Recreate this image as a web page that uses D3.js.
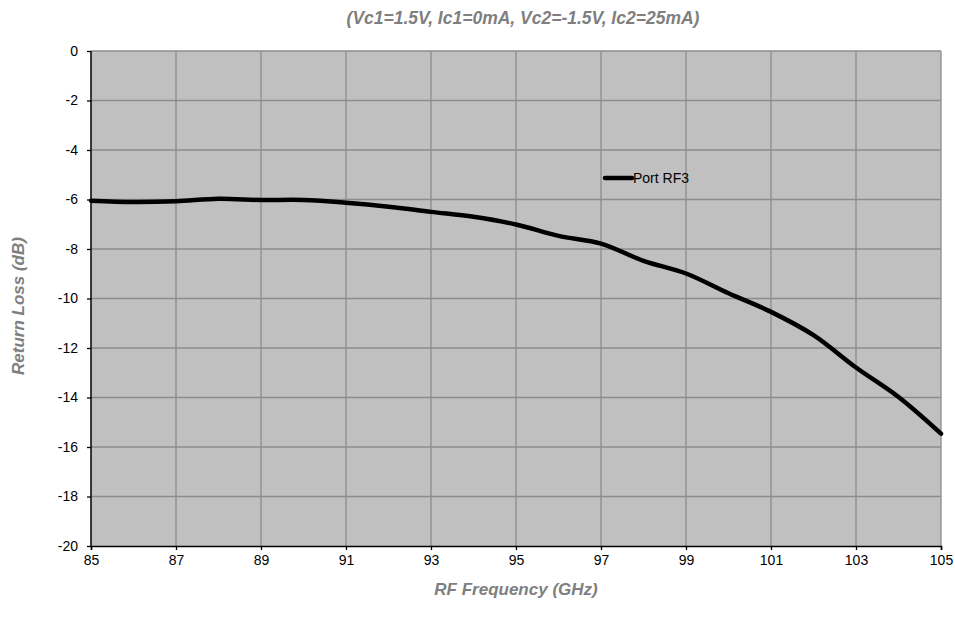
<!DOCTYPE html>
<html><head><meta charset="utf-8">
<script src="https://cdn.jsdelivr.net/npm/d3@7"></script>
<style>body{margin:0;background:#fff;font-family:"Liberation Sans",Arial,sans-serif;}</style>
</head><body><svg id="c" width="955" height="628"></svg>
<script>
const freqs = [85,86,87,88,89,90,91,92,93,94,95,96,97,98,99,100,101,102,103,104,105];
const returnLoss = [-6.05,-6.1,-6.07,-5.97,-6.02,-6.02,-6.13,-6.29,-6.5,-6.7,-7.01,-7.47,-7.78,-8.48,-8.99,-9.79,-10.54,-11.48,-12.79,-13.98,-15.46];
const xTicks = [85,87,89,91,93,95,97,99,101,103,105];
const yTicks = [0,-2,-4,-6,-8,-10,-12,-14,-16,-18,-20];
const seriesName = "Port RF3";
const title = "(Vc1=1.5V, Ic1=0mA, Vc2=-1.5V, Ic2=25mA)";
const xLabel = "RF Frequency (GHz)";
const yLabel = "Return Loss (dB)";

const svg = d3.select("#c");
const L=91, R=941, T=51, B=546;
const x = d3.scaleLinear().domain([85,105]).range([L,R]);
const y = d3.scaleLinear().domain([-20,0]).range([B,T]);
const FF = "Liberation Sans, Arial, sans-serif";

svg.append("rect").attr("x",L).attr("y",T).attr("width",R-L).attr("height",B-T).attr("fill","#c0c0c0");
const g = svg.append("g");
g.selectAll(".vg").data(xTicks.slice(1)).join("line")
 .attr("x1",d=>x(d)).attr("x2",d=>x(d)).attr("y1",T).attr("y2",B)
 .attr("stroke","#8c8c8c").attr("stroke-width",1.3);
g.selectAll(".hg").data(yTicks.slice(0,-1)).join("line")
 .attr("x1",L).attr("x2",R).attr("y1",d=>y(d)).attr("y2",d=>y(d))
 .attr("stroke","#8c8c8c").attr("stroke-width",1.3);

const xa = svg.append("g").attr("transform",`translate(0,${B})`)
 .call(d3.axisBottom(x).tickValues(xTicks).tickSize(4).tickPadding(3).tickFormat(d=>String(d)));
const ya = svg.append("g").attr("transform",`translate(${L},0)`)
 .call(d3.axisLeft(y).tickValues(yTicks).tickSize(4).tickPadding(9).tickFormat(d=>String(d)));
[xa,ya].forEach(a=>{
  a.select(".domain").attr("stroke","#000").attr("stroke-width",1.5);
  a.selectAll(".tick line").attr("stroke","#000").attr("stroke-width",1.3);
  a.selectAll("text").attr("font-family",FF).attr("font-size",14).attr("fill","#000");
});
ya.select(".domain").attr("d",`M0,${T}V${B}`);
xa.selectAll(".tick text").attr("dy","0.85em");

const line = d3.line().x((d,i)=>x(freqs[i])).y(d=>y(d)).curve(d3.curveCatmullRom.alpha(0.5));
svg.append("path").datum(returnLoss).attr("d",line).attr("fill","none")
 .attr("stroke","#000").attr("stroke-width",4.5).attr("stroke-linecap","round");

// legend
const lg = svg.append("g");
lg.append("line").attr("x1",605).attr("x2",632).attr("y1",178).attr("y2",178)
 .attr("stroke","#000").attr("stroke-width",4.5).attr("stroke-linecap","round");
lg.append("text").attr("x",633).attr("y",183).text(seriesName)
 .attr("font-size",14).attr("font-family",FF).attr("fill","#000");

svg.append("text").attr("x",523).attr("y",24).attr("text-anchor","middle").text(title)
 .attr("font-size",17.5).attr("font-weight","bold").attr("font-style","italic").attr("fill","#7f7f7f").attr("font-family",FF);
svg.append("text").attr("x",516).attr("y",595).attr("text-anchor","middle").text(xLabel)
 .attr("font-size",17).attr("font-weight","bold").attr("font-style","italic").attr("fill","#7f7f7f").attr("font-family",FF);
svg.append("text").attr("transform","translate(24,306) rotate(-90)").attr("text-anchor","middle").text(yLabel)
 .attr("font-size",17).attr("font-weight","bold").attr("font-style","italic").attr("fill","#7f7f7f").attr("font-family",FF);
</script></body></html>
